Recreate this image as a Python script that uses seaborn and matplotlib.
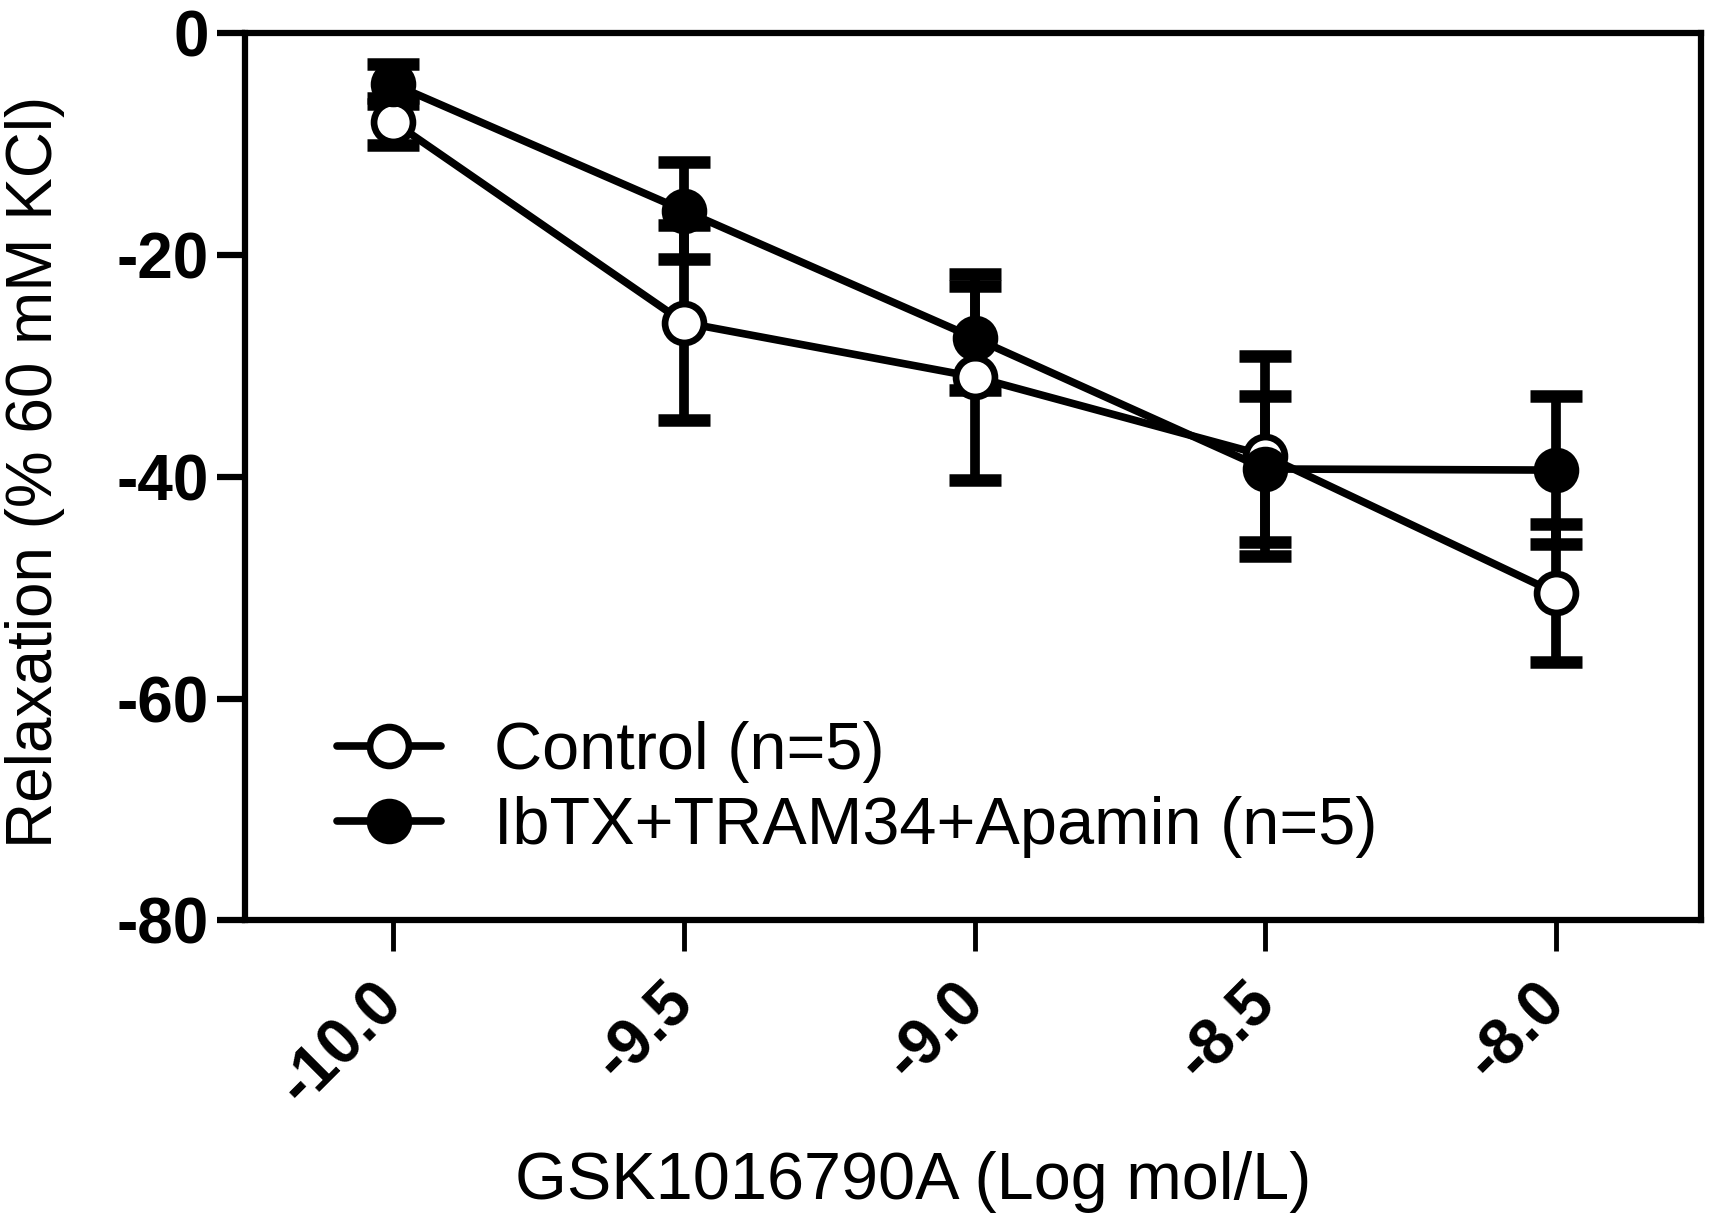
import pandas as pd
import matplotlib
matplotlib.use('Agg')
import matplotlib.pyplot as plt
import seaborn as sns

# values (mean +/- SEM)
log_conc = [-10.0, -9.5, -9.0, -8.5, -8.0]
tick_labels = ['-10.0', '-9.5', '-9.0', '-8.5', '-8.0']
control_mean = [-8.0, -26.1, -31.0, -38.1, -50.5]
control_sem = [2.1, 8.8, 9.3, 9.0, 6.2]
blocker_mean = [-4.6, -16.0, -27.5, -39.3, -39.4]
blocker_sem = [1.8, 4.4, 4.7, 6.6, 6.7]
y_ticks = [0, -20, -40, -60, -80]
series_names = ['Control (n=5)', 'IbTX+TRAM34+Apamin (n=5)']

sns.set_style('ticks')
plt.rcParams['font.family'] = ['Liberation Sans', 'DejaVu Sans']
plt.rcParams['axes.unicode_minus'] = False
for key in ['text.color', 'axes.labelcolor', 'xtick.color', 'ytick.color', 'axes.edgecolor']:
    plt.rcParams[key] = 'black'

df = pd.concat([
    pd.DataFrame({'conc': log_conc, 'mean': control_mean, 'sem': control_sem, 'group': series_names[0]}),
    pd.DataFrame({'conc': log_conc, 'mean': blocker_mean, 'sem': blocker_sem, 'group': series_names[1]}),
])

fig = plt.figure(figsize=(17.13, 12.24), dpi=100)
ax = fig.add_axes([0.143, 0.248, 0.850, 0.725])

face = {series_names[0]: 'white', series_names[1]: 'black'}
for name in series_names:
    sub = df[df['group'] == name]
    ax.errorbar(sub['conc'], sub['mean'], yerr=sub['sem'], fmt='none', ecolor='black',
                elinewidth=7, capsize=19, capthick=9, zorder=2)
    sns.lineplot(x=sub['conc'], y=sub['mean'], color='black', lw=5.5, marker='o',
                 markersize=28, markerfacecolor=face[name], markeredgecolor='black',
                 markeredgewidth=4.8, label=name, ax=ax, zorder=3)

ax.set_xlim(-10.255, -7.751)
ax.set_ylim(-80, 0)
ax.set_xticks(log_conc)
ax.set_xticklabels(tick_labels)
ax.set_yticks(y_ticks)
ax.set_yticklabels([str(t) for t in y_ticks])

ax.tick_params(axis='y', length=20, width=4.5, labelsize=46, pad=6)
ax.tick_params(axis='x', length=22, width=3.5, labelsize=46, pad=30)
for lab in ax.get_yticklabels() + ax.get_xticklabels():
    lab.set_fontweight('bold')
plt.setp(ax.get_xticklabels(), rotation=45, ha='right', va='center', rotation_mode='anchor')

for sp in ax.spines.values():
    sp.set_visible(True)
    sp.set_linewidth(4.5)

ax.set_xlabel('GSK1016790A (Log mol/L)', fontsize=48, va='center')
ax.set_ylabel('Relaxation (% 60 mM KCl)', fontsize=46, va='center')
ax.xaxis.set_label_coords(0.459, -0.295)
ax.yaxis.set_label_coords(-0.144, 0.505)

ax.legend(loc='lower left', bbox_to_anchor=(0.063, 0.07), frameon=False, fontsize=48,
          handlelength=1.56, handletextpad=0.8, labelspacing=0.2, borderpad=0,
          borderaxespad=0)

plt.savefig('out.png', dpi=100)
plt.close()
